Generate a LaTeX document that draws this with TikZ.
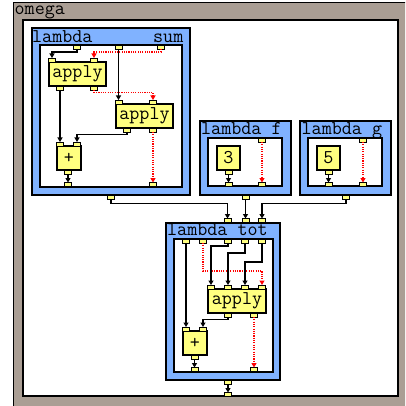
\documentclass[tikz,border=0pt]{standalone}
\usepackage{fontspec}
\usetikzlibrary{arrows.meta}
\definecolor{omegagrey}{RGB}{170,158,148}
\definecolor{lamblue}{RGB}{128,178,255}
\definecolor{boxyellow}{RGB}{255,255,128}
\begin{document}
\begin{tikzpicture}[x=1pt,y=-1pt,
  port/.style={draw=black, line width=0.8pt, fill=boxyellow, minimum width=7pt, minimum height=4pt, inner sep=0pt, outer sep=0pt},
  opbox/.style={draw=black, line width=1.2pt, fill=boxyellow, inner sep=0pt, outer sep=0pt, font=\ttfamily\fontsize{19.5}{22}\selectfont},
  omegaframe/.style={draw=black, line width=1pt, fill=omegagrey, inner sep=0pt},
  omegabody/.style={draw=black, line width=1.6pt, fill=white, inner sep=0pt},
  lamframe/.style={draw=black, line width=1.2pt, fill=lamblue, inner sep=0pt},
  lambody/.style={draw=black, line width=1.6pt, fill=white, inner sep=0pt},
  lamlabel/.style={inner sep=0pt, font=\ttfamily\fontsize{19.5}{22}\selectfont},
  conn/.style={draw=black, line width=1.3pt, -{Triangle[length=4.5pt,width=5pt]}},
  rconn/.style={draw=red, line width=1.1pt, dash pattern=on 1.1pt off 1.2pt, -{Triangle[length=4.5pt,width=5pt]}},
]
\useasboundingbox (0,0) rectangle (405,406);
\clip (0,0) rectangle (405,406);
% omega
\node[omegaframe, minimum width=395pt, minimum height=405pt] (omega) at (210.5,205.5) {};
\node[omegabody, minimum width=375pt, minimum height=376pt] (omegain) at (210.5,208) {};
\node[lamlabel, anchor=base west] (omegalbl) at (14.5,15) {omega};
% lambda sum
\node[lamframe, minimum width=158pt, minimum height=167pt] (sum) at (111,111.5) {};
\node[lambody, minimum width=142pt, minimum height=142pt] (sumin) at (111,116) {};
\node[lamlabel, anchor=base west] (sumlbl1) at (32,43) {lambda};
\node[lamlabel, anchor=base east] (sumlbl2) at (183.5,43) {sum};
\node[opbox, minimum width=57pt, minimum height=24pt] (a1) at (77.5,74) {apply};
\node[opbox, minimum width=57pt, minimum height=24pt] (a2) at (144.5,116) {apply};
\node[opbox, minimum width=24pt, minimum height=24pt] (p1) at (69,158) {+};
% lambda f
\node[lamframe, minimum width=91pt, minimum height=74pt] (lf) at (245.5,158) {};
\node[lambody, minimum width=74pt, minimum height=48pt] (lfin) at (245,162) {};
\node[lamlabel, anchor=base west] (lflbl) at (201,135) {lambda f};
\node[opbox, minimum width=23pt, minimum height=24pt] (b3) at (228.5,158) {3};
% lambda g
\node[lamframe, minimum width=91pt, minimum height=74pt] (lg) at (345.5,158) {};
\node[lambody, minimum width=74pt, minimum height=48pt] (lgin) at (345,162) {};
\node[lamlabel, anchor=base west] (lglbl) at (301.5,135) {lambda g};
\node[opbox, minimum width=23pt, minimum height=24pt] (b5) at (328.5,158) {5};
% lambda tot
\node[lamframe, minimum width=114pt, minimum height=157pt] (tot) at (223,301.5) {};
\node[lambody, minimum width=99pt, minimum height=133pt] (totin) at (223.5,305.5) {};
\node[lamlabel, anchor=base west] (totlbl) at (167,235) {lambda tot};
\node[opbox, minimum width=58pt, minimum height=24pt] (a3) at (237,301) {apply};
\node[opbox, minimum width=24pt, minimum height=24pt] (p2) at (195,343) {+};
% ports: lambda sum
\node[port] (sin1) at (77,47) {};
\node[port] (sin2) at (118.5,47) {};
\node[port] (sin3) at (161,47) {};
\node[port] (a1i1) at (52,60) {};
\node[port] (a1i2) at (94,60) {};
\node[port] (a1o1) at (60,88) {};
\node[port] (a1o2) at (94,88) {};
\node[port] (a2i1) at (118.5,102) {};
\node[port] (a2i2) at (153,102) {};
\node[port] (a2o1) at (127,130) {};
\node[port] (a2o2) at (153,130) {};
\node[port] (p1i1) at (60,144) {};
\node[port] (p1i2) at (77,144) {};
\node[port] (p1o) at (68,172) {};
\node[port] (sout1) at (68,184.5) {};
\node[port] (sout2) at (153,184.5) {};
\node[port] (sres) at (111,197.5) {};
% ports: lambda f
\node[port] (fin) at (262,140) {};
\node[port] (f3o) at (228.5,172) {};
\node[port] (fout1) at (228.5,184.5) {};
\node[port] (fout2) at (262,184.5) {};
\node[port] (fres) at (245.5,197.5) {};
% ports: lambda g
\node[port] (gin) at (363,140) {};
\node[port] (g5o) at (328.5,172) {};
\node[port] (gout1) at (328.5,184.5) {};
\node[port] (gout2) at (363,184.5) {};
\node[port] (gres) at (346,197.5) {};
% ports: lambda tot
\node[port] (ti1) at (227.5,220.5) {};
\node[port] (ti2) at (245.5,220.5) {};
\node[port] (ti3) at (262,220.5) {};
\node[port] (tin1) at (186,241) {};
\node[port] (tin2) at (203,241) {};
\node[port] (tin3) at (228,241) {};
\node[port] (tin4) at (245,241) {};
\node[port] (tin5) at (262,241) {};
\node[port] (a3i1) at (211,287) {};
\node[port] (a3i2) at (228,287) {};
\node[port] (a3i3) at (245,287) {};
\node[port] (a3i4) at (262,287) {};
\node[port] (a3o1) at (228,315) {};
\node[port] (a3o2) at (254,315) {};
\node[port] (p2i1) at (186,329) {};
\node[port] (p2i2) at (203,329) {};
\node[port] (p2o) at (194.5,357) {};
\node[port] (tout1) at (194.5,369.5) {};
\node[port] (tout2) at (254,369.5) {};
\node[port] (tres) at (228,382.5) {};
\node[port] (ores) at (228,394.5) {};
% connectors: lambda sum
\draw[conn] (sin1.south) -- ++(0,3) -| (a1i1.north);
\draw[conn] (sin2.south) -- (a2i1.north);
\draw[rconn] (sin3.south) -- ++(0,3) -| (a1i2.north);
\draw[conn] (a1o1.south) -- (p1i1.north);
\draw[rconn] (a1o2.south) -- ++(0,2.5) -| (a2i2.north);
\draw[conn] (a2o1.south) -- ++(0,2.5) -| (p1i2.north);
\draw[rconn] (a2o2.south) -- (sout2.north);
\draw[conn] (p1o.south) -- (sout1.north);
% connectors: lambda f, g
\draw[conn] (f3o.south) -- (fout1.north);
\draw[rconn] (fin.south) -- (fout2.north);
\draw[conn] (g5o.south) -- (gout1.north);
\draw[rconn] (gin.south) -- (gout2.north);
% connectors between lambdas
\draw[conn] (sres.south) -- ++(0,4) -| (ti1.north);
\draw[conn] (fres.south) -- (ti2.north);
\draw[conn] (gres.south) -- ++(0,4) -| (ti3.north);
% connectors: lambda tot
\draw[conn] (tin1.south) -- (p2i1.north);
\draw[rconn] (tin2.south) -- ++(0,28) -| (a3i4.north);
\draw[conn] (tin3.south) -- ++(0,3) -| (a3i1.north);
\draw[conn] (tin4.south) -- ++(0,10) -| (a3i2.north);
\draw[conn] (tin5.south) -- ++(0,19) -| (a3i3.north);
\draw[conn] (a3o1.south) -- ++(0,2.5) -| (p2i2.north);
\draw[rconn] (a3o2.south) -- (tout2.north);
\draw[conn] (p2o.south) -- (tout1.north);
\draw[conn] (tres.south) -- (ores.north);
\end{tikzpicture}
\end{document}
